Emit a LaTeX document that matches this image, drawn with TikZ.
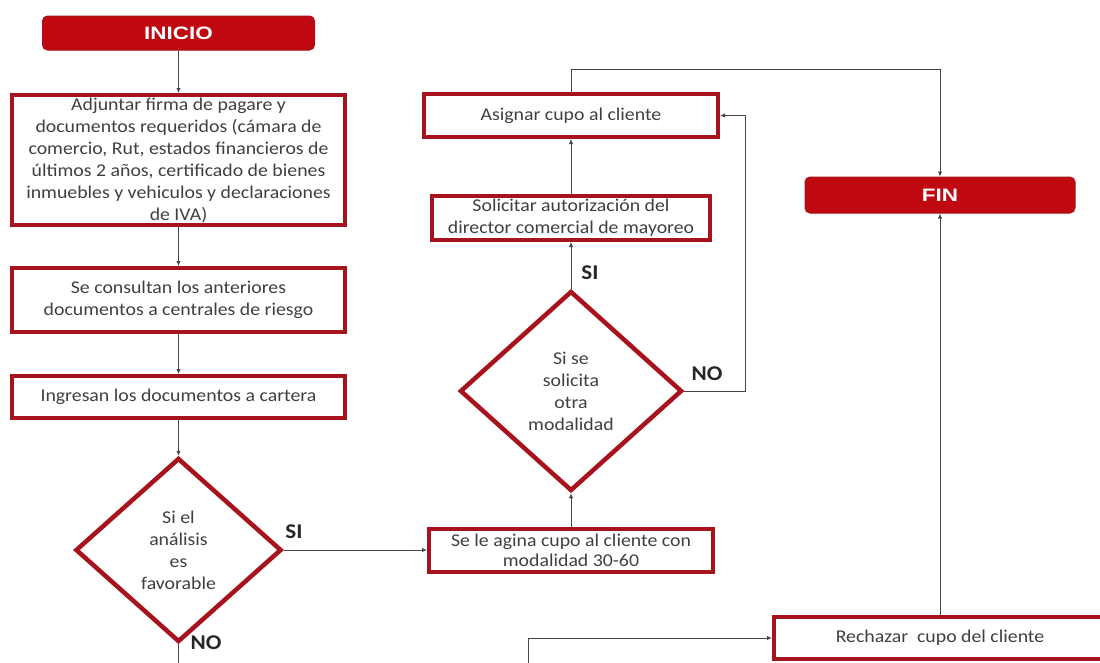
\documentclass[tikz,border=0pt]{standalone}
\usepackage{fontspec}
\setmainfont[FakeStretch=1.1]{Carlito}
\newfontfamily\capfont[FakeStretch=1.25]{Liberation Sans}
\usetikzlibrary{shapes.geometric,arrows.meta}
\definecolor{frame}{RGB}{168,18,28}
\definecolor{capfill}{RGB}{192,8,16}
\definecolor{ink}{RGB}{64,64,64}
\definecolor{wire}{RGB}{70,70,70}

\begin{document}
\begin{tikzpicture}[x=1pt,y=-1pt,
  terminal/.style={rectangle, rounded corners=5pt, fill=capfill, draw=frame,
    line width=1pt, text=white, inner sep=0pt,
    font=\capfont\bfseries\fontsize{18}{20}\selectfont},
  process/.style={rectangle, draw=frame, line width=4pt, fill=white, text=ink,
    align=center, inner sep=0pt, font=\fontsize{18}{22}\selectfont},
  decision/.style={diamond, draw=frame, line width=4.5pt, fill=white, text=ink,
    align=center, inner sep=0pt, font=\fontsize{18}{22}\selectfont},
  flow/.style={draw=wire, line width=0.9pt, -{Latex[length=5pt,width=4.5pt]}},
  answer/.style={font=\bfseries\fontsize{21}{24}\selectfont, text=black!85}]

\useasboundingbox (0,0) rectangle (1100,662);
\clip (0,0) rectangle (1100,662);
\fill[white] (0,0) rectangle (1100,662);

% left column
\node[terminal, minimum width=272, minimum height=34] (start) at (178.5,33) {INICIO};
\node[process, minimum width=333, minimum height=130] (b1) at (178.5,160)
  {Adjuntar firma de pagare y\\documentos requeridos (cámara de\\comercio, Rut, estados financieros de\\últimos 2 años, certificado de bienes\\inmuebles y vehiculos y declaraciones\\de IVA)};
\node[process, minimum width=333, minimum height=64] (b2) at (178.5,300)
  {Se consultan los anteriores\\documentos a centrales de riesgo};
\node[process, minimum width=333, minimum height=42] (b3) at (178.5,397)
  {Ingresan los documentos a cartera};
\node[decision, minimum width=206, minimum height=184] (d1) at (178.5,550)
  {Si el\\análisis\\es\\favorable};

% middle column
\node[process, minimum width=284, minimum height=43, font=\fontsize{18}{20}\selectfont] (b4) at (571,550)
  {Se le agina cupo al cliente con\\modalidad 30-60};
\node[decision, minimum width=222, minimum height=200] (d2) at (571,391)
  {Si se\\solicita\\otra\\modalidad};
\node[process, minimum width=278, minimum height=44] (b5) at (571,218)
  {Solicitar autorización del\\director comercial de mayoreo};
\node[process, minimum width=294, minimum height=43] (b6) at (571,115.5)
  {Asignar cupo al cliente};

% right column
\node[terminal, minimum width=270, minimum height=36] (fin) at (940,195) {FIN};
\node[process, minimum width=332, minimum height=42] (rech) at (940,638)
  {Rechazar\ \ cupo del cliente};

% branch labels
\node[answer] (siA) at (294,532) {SI};
\node[answer] (noA) at (206,643) {NO};
\node[answer] (siB) at (590,273) {SI};
\node[answer] (noB) at (707,374) {NO};

% routing points of the rejection branch (below the visible area)
\coordinate (loopa) at (178.5,690);
\coordinate (loopb) at (528,690);

% connectors
\draw[flow] (start) -- (b1);
\draw[flow] (b1) -- (b2);
\draw[flow] (b2) -- (b3);
\draw[flow] (b3) -- (d1);
\draw[flow] (d1.east) -- (b4.west);
\draw[flow] (b4) -- (d2);
\draw[flow] (d2) -- (b5);
\draw[flow] (b5) -- (b6);
\draw[flow] (d2.east) -- ++(61,0) |- (b6.east);
\draw[flow] (b6.north) -- ++(0,-23) -| (fin.north);
\draw[flow] (rech.north) -- (fin.south);
\draw[flow] (d1.south) -- (loopa) -- (loopb) |- (rech.west);

\end{tikzpicture}
\end{document}
